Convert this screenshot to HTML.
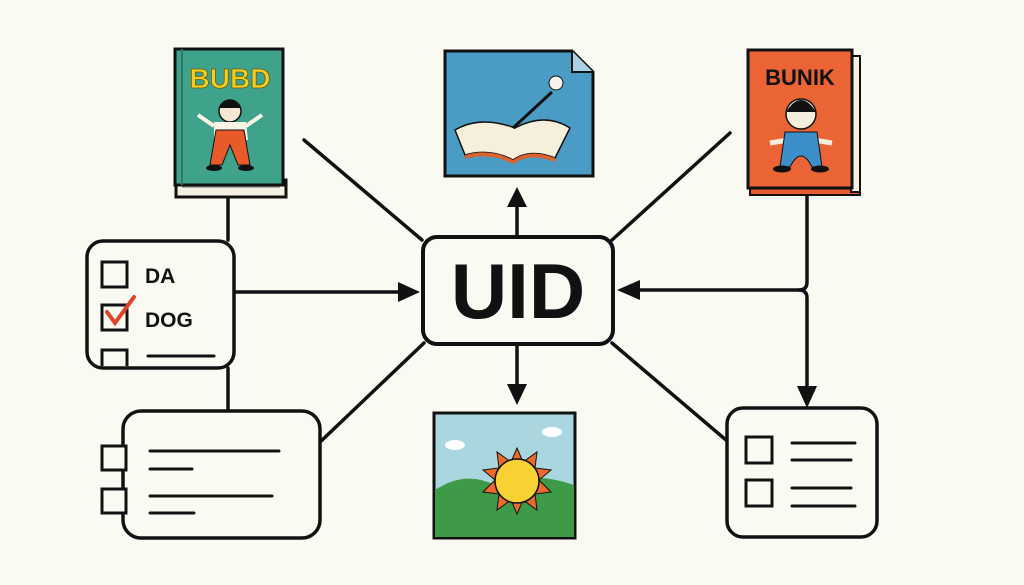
<!DOCTYPE html>
<html><head><style>html,body{margin:0;padding:0;background:#fbfaf2;}svg{display:block}</style></head>
<body>
<svg width="1024" height="585" viewBox="0 0 1024 585" xmlns="http://www.w3.org/2000/svg" font-family="Liberation Sans, sans-serif">
<rect width="1024" height="585" fill="#fbfaf2"/>
<g stroke="#111" stroke-width="3.5" fill="none" stroke-linecap="round">
<line x1="304" y1="140" x2="422" y2="240"/>
<line x1="730" y1="133" x2="612" y2="240"/>
<line x1="318" y1="444" x2="424" y2="343"/>
<line x1="612" y1="343" x2="726" y2="440"/>
<line x1="228" y1="197" x2="228" y2="240"/>
<line x1="228" y1="368" x2="228" y2="410"/>
<line x1="236" y1="292" x2="400" y2="292"/>
<line x1="517" y1="236" x2="517" y2="205"/>
<line x1="517" y1="345" x2="517" y2="385"/>
<path d="M807,194 V282 Q807,290 799,290 H640"/>
<path d="M799,290 Q807,290 807,298 V388"/>
</g>
<g fill="#111">
<polygon points="420,292 398,282 398,302"/>
<polygon points="517,187 507,207 527,207"/>
<polygon points="517,405 507,384 527,384"/>
<polygon points="617,290 640,280 640,300"/>
<polygon points="807,408 797,386 817,386"/>
</g>
<rect x="423" y="237" width="190" height="107" rx="14" fill="#fbfaf2" stroke="#111" stroke-width="4"/>
<text x="518" y="318" font-size="78" font-weight="bold" text-anchor="middle" fill="#111">UID</text>
<rect x="176" y="180" width="110" height="17" fill="#f4f0e2" stroke="#111" stroke-width="3"/>
<line x1="182" y1="187" x2="280" y2="187" stroke="#999" stroke-width="1.5"/>
<rect x="175" y="49" width="108" height="136" fill="#3fa38c" stroke="#111" stroke-width="3"/>
<line x1="182" y1="49" x2="182" y2="185" stroke="#2a7a68" stroke-width="2"/>
<text x="230" y="88" font-size="28" font-weight="bold" text-anchor="middle" fill="#f3cf1f" stroke="#6a5a10" stroke-width="0.8">BUBD</text>
<circle cx="230" cy="111" r="11" fill="#f6e7d4" stroke="#111" stroke-width="1.5"/>
<path d="M219,108 Q230,92 241,108 Z" fill="#111"/>
<path d="M214,122 L246,122 L248,140 L214,140 Z" fill="#fbf3e4"/>
<path d="M216,130 L244,130 L250,165 L238,165 L230,145 L222,165 L210,165 Z" fill="#e85a2a" stroke="#111" stroke-width="1"/>
<line x1="214" y1="126" x2="198" y2="115" stroke="#fbf3e4" stroke-width="4"/>
<line x1="246" y1="126" x2="262" y2="115" stroke="#fbf3e4" stroke-width="4"/>
<ellipse cx="214" cy="168" rx="8" ry="3" fill="#111"/><ellipse cx="246" cy="168" rx="8" ry="3" fill="#111"/>
<path d="M445,51 L572,51 L593,72 L593,176 L445,176 Z" fill="#4a9cc4" stroke="#111" stroke-width="3"/>
<path d="M572,51 L572,72 L593,72" fill="#a9d2e6" stroke="#111" stroke-width="2"/>
<path d="M455,130 Q480,115 515,128 Q545,112 570,128 L555,158 Q530,148 513,160 Q490,148 465,155 Z" fill="#f6efdc" stroke="#111" stroke-width="1.5"/>
<path d="M465,155 Q490,148 513,160 Q530,148 555,158 L555,162 Q530,152 513,164 Q490,152 465,159Z" fill="#d9622e"/>
<line x1="513" y1="128" x2="552" y2="92" stroke="#111" stroke-width="3"/>
<circle cx="556" cy="83" r="7" fill="#f4f1ea" stroke="#111" stroke-width="1"/>
<rect x="750" y="186" width="110" height="9" fill="#e85a30" stroke="#111" stroke-width="2"/>
<rect x="851" y="56" width="9" height="136" fill="#f4f0e2" stroke="#111" stroke-width="2"/>
<rect x="748" y="50" width="104" height="138" fill="#ea6436" stroke="#111" stroke-width="3"/>
<text x="800" y="85" font-size="22" font-weight="bold" text-anchor="middle" fill="#111">BUNIK</text>
<circle cx="801" cy="114" r="15" fill="#f6eedd" stroke="#111" stroke-width="1.5"/>
<path d="M786,112 Q801,88 816,112 Z" fill="#111"/>
<line x1="788" y1="140" x2="770" y2="143" stroke="#f6eedd" stroke-width="5"/>
<line x1="814" y1="140" x2="832" y2="143" stroke="#f6eedd" stroke-width="5"/>
<path d="M785,132 L817,132 L822,167 L812,167 Q801,145 790,167 L780,167 Z" fill="#3c8fc8" stroke="#111" stroke-width="1"/>
<ellipse cx="782" cy="169" rx="9" ry="3.5" fill="#111"/><ellipse cx="820" cy="169" rx="9" ry="3.5" fill="#111"/>
<rect x="434" y="413" width="141" height="125" fill="#a9d6df" stroke="#111" stroke-width="3"/>
<path d="M435,490 Q465,470 495,485 Q530,470 574,485 L574,537 L435,537 Z" fill="#3f9a48"/>
<polygon points="517,448 523,462 537,452 535,468 551,470 539,480 551,492 535,494 537,510 523,500 517,514 511,500 497,510 499,494 483,492 495,480 483,470 499,468 497,452 511,462" fill="#ee6a2a" stroke="#111" stroke-width="1"/>
<circle cx="517" cy="481" r="22" fill="#f7d232" stroke="#111" stroke-width="1.5"/>
<ellipse cx="455" cy="445" rx="10" ry="5" fill="#fff"/><ellipse cx="552" cy="432" rx="10" ry="5" fill="#fff"/>
<rect x="87" y="241" width="147" height="127" rx="16" fill="#fbfaf2" stroke="#111" stroke-width="3.5"/>
<g fill="none" stroke="#111" stroke-width="3">
<rect x="102" y="262" width="25" height="25"/>
<rect x="102" y="305" width="25" height="25"/>
<path d="M102,366 V350 H127 V366"/>
<line x1="148" y1="356" x2="214" y2="356" stroke-linecap="round"/>
</g>
<path d="M107,312 L115,323 L134,297" fill="none" stroke="#e0432a" stroke-width="4" stroke-linecap="round"/>
<text x="145" y="283" font-size="21" font-weight="bold" fill="#111">DA</text>
<text x="145" y="327" font-size="21" font-weight="bold" fill="#111">DOG</text>
<rect x="123" y="411" width="197" height="127" rx="18" fill="#fbfaf2" stroke="#111" stroke-width="3.5"/>
<g fill="#fbfaf2" stroke="#111" stroke-width="3" stroke-linecap="round">
<rect x="102" y="446" width="24" height="24"/>
<rect x="102" y="489" width="24" height="24"/>
<line x1="150" y1="451" x2="279" y2="451"/>
<line x1="150" y1="469" x2="192" y2="469"/>
<line x1="150" y1="496" x2="272" y2="496"/>
<line x1="150" y1="513" x2="194" y2="513"/>
</g>
<rect x="727" y="408" width="150" height="129" rx="16" fill="#fbfaf2" stroke="#111" stroke-width="3.5"/>
<g fill="none" stroke="#111" stroke-width="3" stroke-linecap="round">
<rect x="746" y="437" width="26" height="26"/>
<rect x="746" y="480" width="26" height="26"/>
<line x1="792" y1="443" x2="855" y2="443"/>
<line x1="792" y1="460" x2="851" y2="460"/>
<line x1="792" y1="488" x2="851" y2="488"/>
<line x1="792" y1="506" x2="855" y2="506"/>
</g>
</svg>
</body></html>
